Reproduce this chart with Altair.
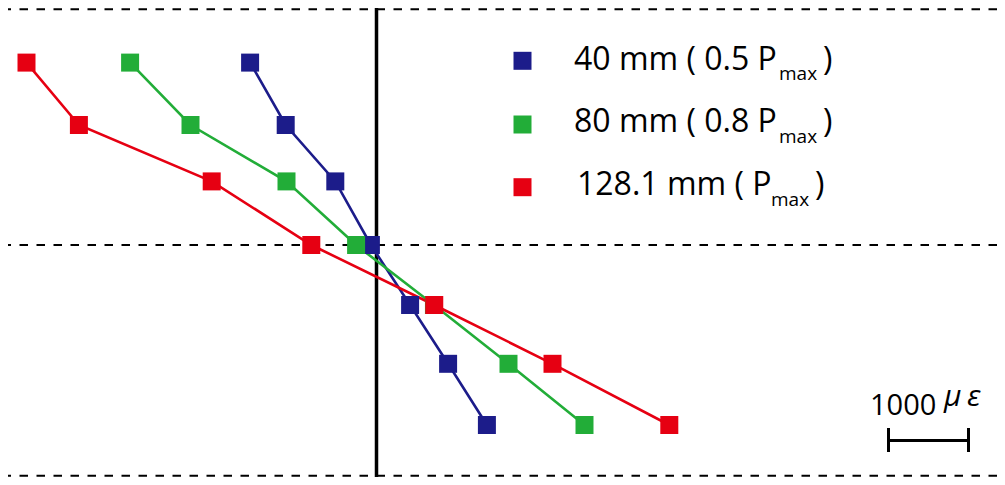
import altair as alt
import pandas as pd

# ---- data ----
depth = [152, 100, 53, 0, -50, -99, -150]          # gauge position (mm from mid-depth)
strain_40 = [-1580, -1135, -515, -70, 420, 895, 1380]
strain_80 = [-3080, -2325, -1125, -255, 718, 1650, 2600]
strain_128 = [-4375, -3720, -2060, -815, 722, 2200, 3660]
series_names = ["40 mm", "80 mm", "128.1 mm"]
series_colors = ["#1c1c8a", "#22ad38", "#e60012"]
legend_main = ["40 mm ( 0.5 P", "80 mm ( 0.8 P", "128.1 mm ( P"]
section_lines = [196.5, 0, -192.3]                  # top, middle, bottom of section
scale_bar = [6400, 7400]                            # 1000 micro-strain bar
scale_label = "1000"

rows = []
for name, vals in zip(series_names, [strain_40, strain_80, strain_128]):
    for i, (d, s) in enumerate(zip(depth, vals)):
        rows.append({"series": name, "depth": d, "strain": s, "order": i})
df = pd.DataFrame(rows)

W, H = 989, 469
xscale = alt.Scale(domain=[-4606.25, 7756.25], nice=False, zero=False)
yscale = alt.Scale(domain=[-193.33, 197.5], nice=False, zero=False)
cscale = alt.Scale(domain=series_names, range=series_colors)

dash = alt.Chart(pd.DataFrame({"y": section_lines})).mark_rule(
    color="black", strokeWidth=2, strokeDash=[8.5, 8.5]
).encode(y=alt.Y("y:Q", scale=yscale, axis=None))

zero = alt.Chart(pd.DataFrame({"x": [0]})).mark_rule(
    color="black", strokeWidth=3.5
).encode(x=alt.X("x:Q", scale=xscale, axis=None))

lines = alt.Chart(df).mark_line(strokeWidth=2.6).encode(
    x=alt.X("strain:Q", scale=xscale, axis=None),
    y=alt.Y("depth:Q", scale=yscale, axis=None),
    color=alt.Color("series:N", scale=cscale, legend=None),
    order="order:Q",
    detail="series:N",
)

points = alt.Chart(df).mark_point(shape="square", filled=True, opacity=1, size=324).encode(
    x=alt.X("strain:Q", scale=xscale, axis=None),
    y=alt.Y("depth:Q", scale=yscale, axis=None),
    color=alt.Color("series:N", scale=cscale, legend=None),
)

# ---- custom legend ----
leg = pd.DataFrame({
    "series": series_names,
    "main": legend_main,
    "sy": [52.8, 116.5, 179.2],
    "ty": [62, 124, 187],
    "suby": [72, 135, 198],
    "mx": [566, 566, 569],
    "subx": [771, 771, 763],
    "px": [815, 815, 807],
})
leg_sq = alt.Chart(leg).mark_point(shape="square", filled=True, opacity=1, size=324).encode(
    x=alt.value(514.5), y=alt.Y("sy:Q", scale=None),
    color=alt.Color("series:N", scale=cscale, legend=None),
)
font = "Open Sans"
leg_main = alt.Chart(leg).mark_text(align="left", baseline="alphabetic", fontSize=32, font=font, color="black").encode(
    x=alt.X("mx:Q", scale=None), y=alt.Y("ty:Q", scale=None), text="main:N")
leg_sub = alt.Chart(leg).mark_text(align="left", baseline="alphabetic", fontSize=19, font=font, color="black", text="max").encode(
    x=alt.X("subx:Q", scale=None), y=alt.Y("suby:Q", scale=None))
leg_par = alt.Chart(leg).mark_text(align="left", baseline="alphabetic", fontSize=32, font=font, color="black", text=")").encode(
    x=alt.X("px:Q", scale=None), y=alt.Y("ty:Q", scale=None))

# ---- scale bar ----
sb_y = -163
bar_df = pd.DataFrame({"x": [scale_bar[0]], "x2": [scale_bar[1]], "y": [sb_y]})
bar = alt.Chart(bar_df).mark_rule(color="black", strokeWidth=3).encode(
    x=alt.X("x:Q", scale=xscale, axis=None), x2="x2:Q",
    y=alt.Y("y:Q", scale=yscale, axis=None))
ends_df = pd.DataFrame({"x": scale_bar, "y": [-152.5, -152.5], "y2": [-172.5, -172.5]})
ends = alt.Chart(ends_df).mark_rule(color="black", strokeWidth=3).encode(
    x=alt.X("x:Q", scale=xscale, axis=None),
    y=alt.Y("y:Q", scale=yscale, axis=None), y2="y2:Q")
sb_text = alt.Chart(pd.DataFrame({"t": [scale_label]})).mark_text(
    align="left", baseline="alphabetic", fontSize=29, font=font, color="black"
).encode(x=alt.value(862), y=alt.value(407), text="t:N")
sb_mu = alt.Chart(pd.DataFrame({"t": ["\u03bc"]})).mark_text(
    align="left", baseline="alphabetic", fontSize=30, font=font, fontStyle="italic", color="black"
).encode(x=alt.value(936), y=alt.value(398), text="t:N")
sb_eps = alt.Chart(pd.DataFrame({"t": ["\u03b5"]})).mark_text(
    align="left", baseline="alphabetic", fontSize=30, font=font, fontStyle="italic", color="black"
).encode(x=alt.value(959), y=alt.value(398), text="t:N")

chart = alt.layer(
    dash, zero, lines, points, leg_sq, leg_main, leg_sub, leg_par, bar, ends, sb_text, sb_mu, sb_eps
).properties(width=W, height=H, padding=0, autosize=alt.AutoSizeParams(type="none")).configure_view(stroke=None)

chart.save("out.html", embed_options={"renderer": "svg", "actions": False})
